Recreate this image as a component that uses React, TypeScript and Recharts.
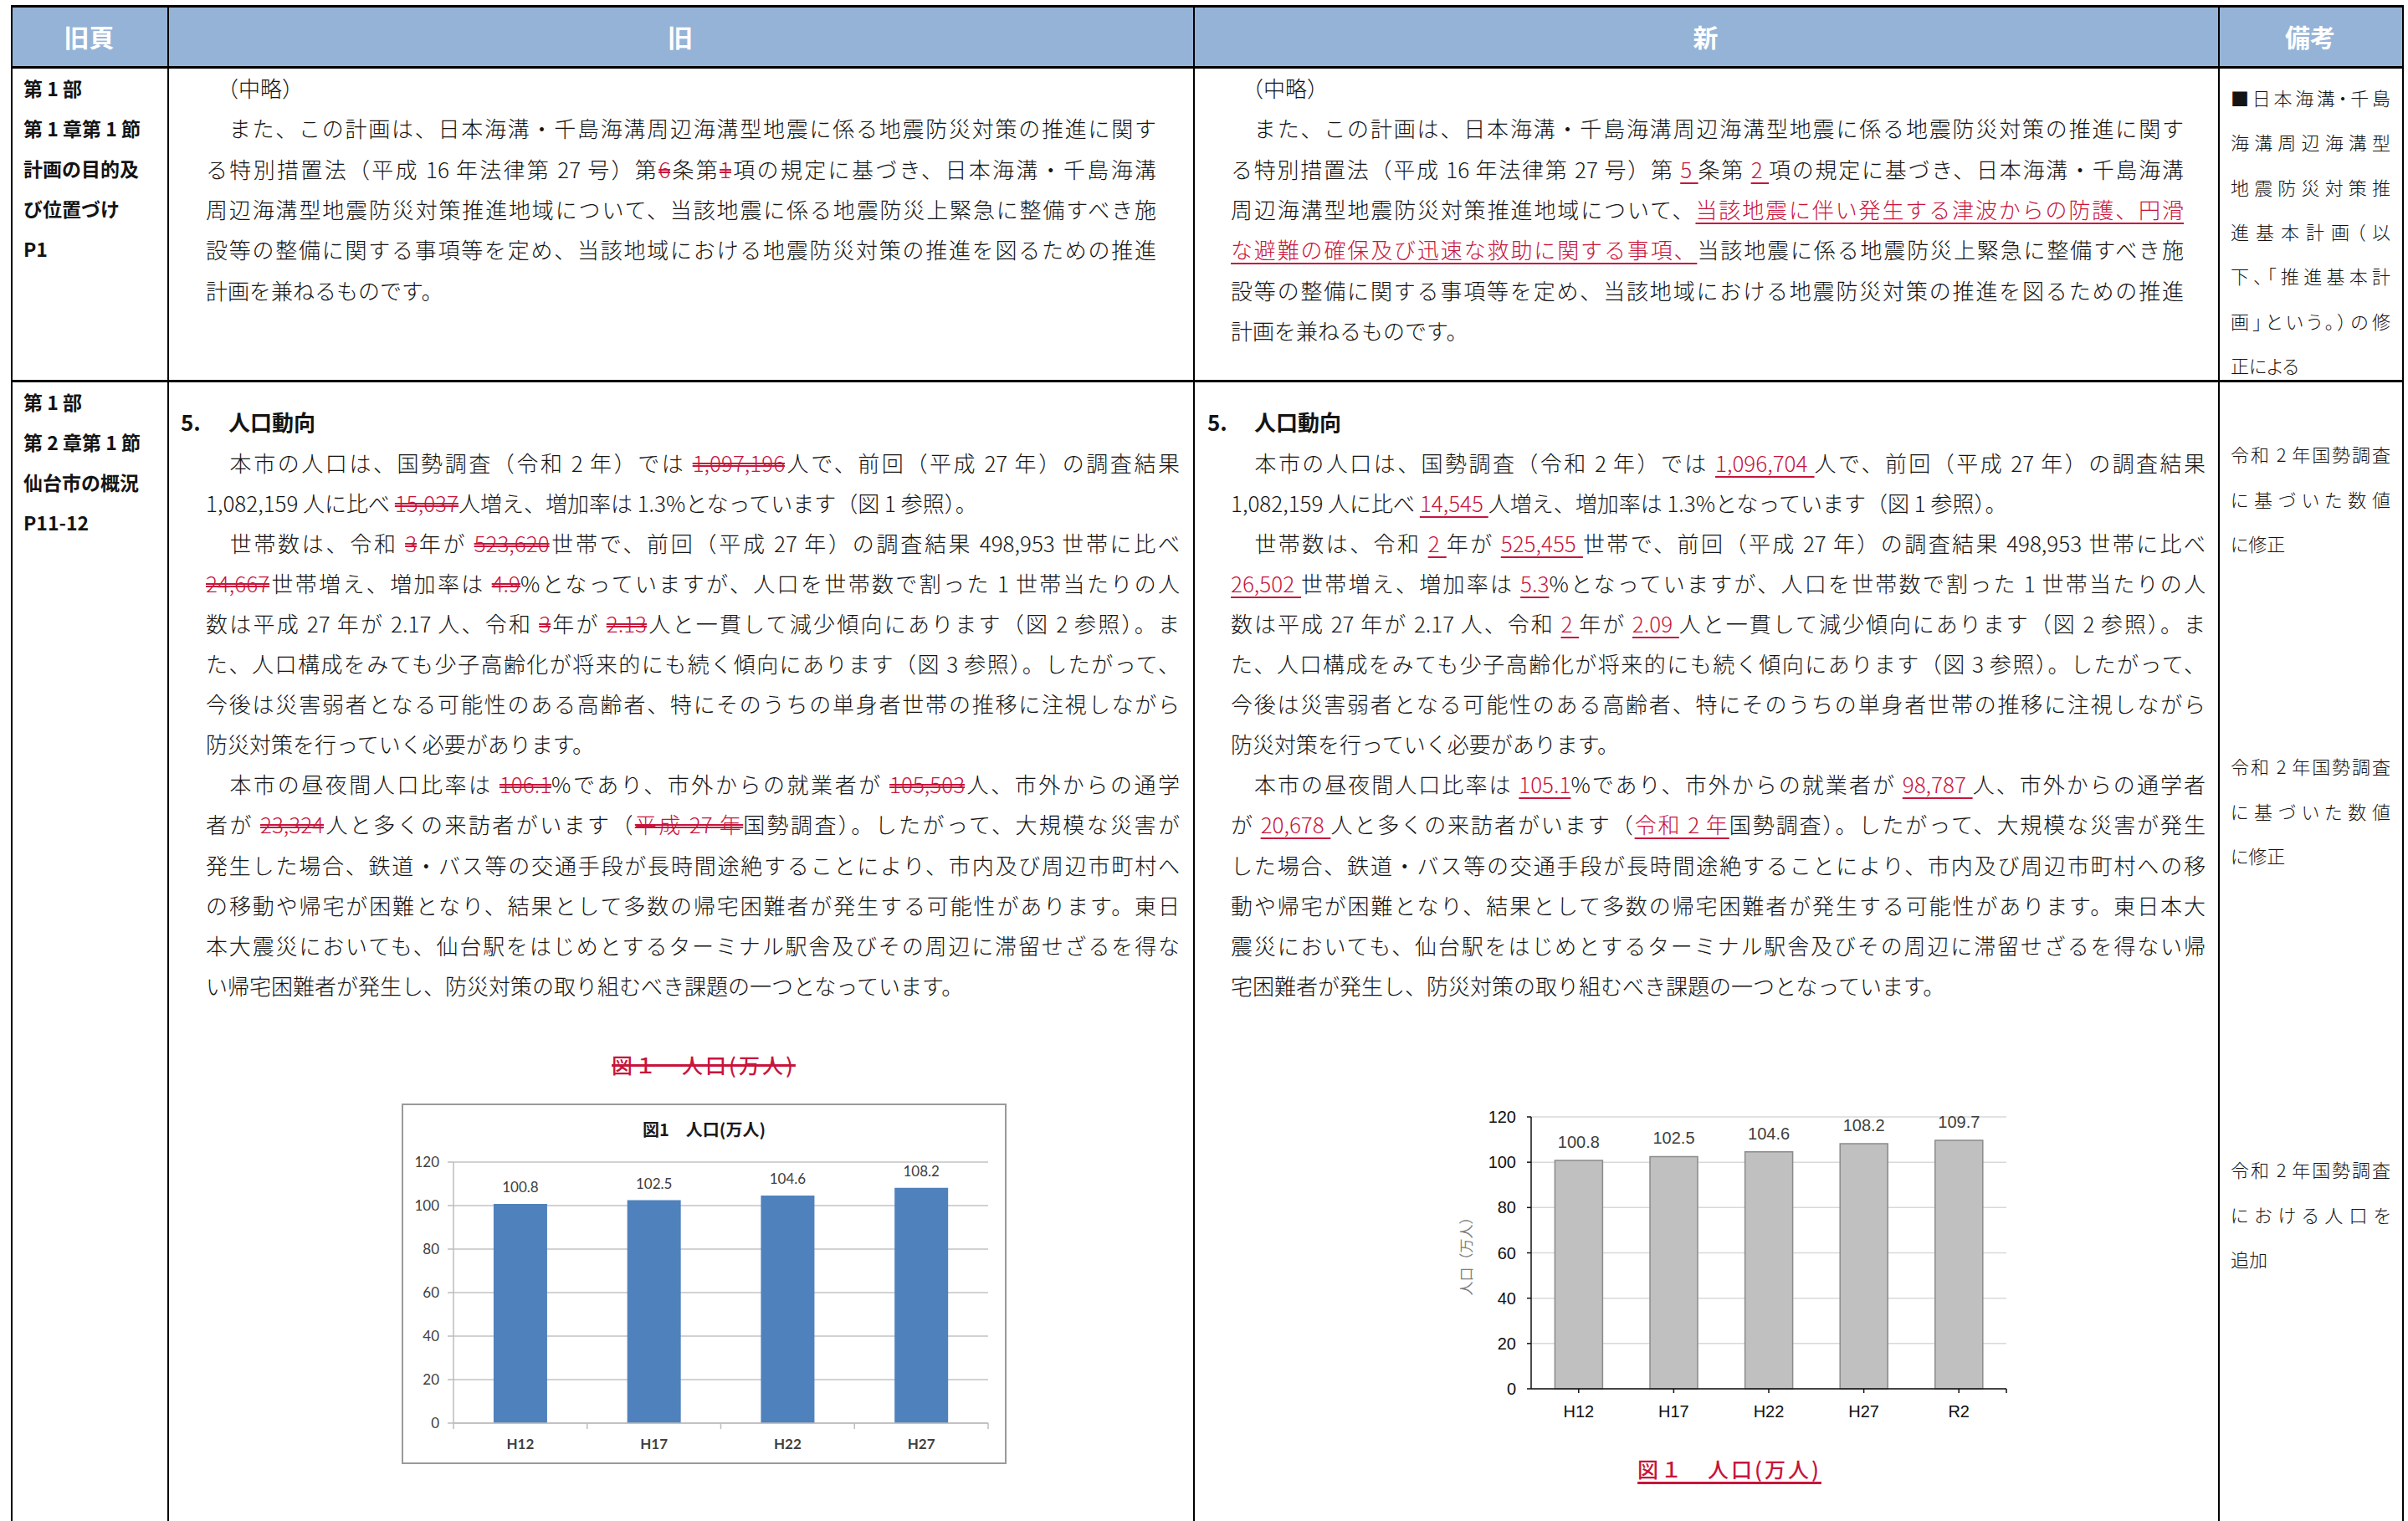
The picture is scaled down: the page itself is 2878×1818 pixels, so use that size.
import React from "react";
import { BarChart, Bar, XAxis, YAxis, CartesianGrid, LabelList } from "recharts";

// chart values
const oldYears = ["H12", "H17", "H22", "H27"];
const oldPopulation = [100.8, 102.5, 104.6, 108.2];
const newYears = ["H12", "H17", "H22", "H27", "R2"];
const newPopulation = [100.8, 102.5, 104.6, 108.2, 109.7];
const popTicks = [0, 20, 40, 60, 80, 100, 120];

const RED = "#c8143c";
const INK = "#141414";
const JP = '"Noto Sans CJK JP", sans-serif';

type Seg = string | { t: string; k: "del" | "ins" };
type Para = Seg[][];
const del = (t: string): Seg => ({ t, k: "del" });
const ins = (t: string): Seg => ({ t, k: "ins" });

const headers = ["旧頁", "旧", "新", "備考"];

const pageRef1 = ["第 1 部", "第 1 章第 1 節", "計画の目的及", "び位置づけ", "P1"];
const pageRef2 = ["第 1 部", "第 2 章第 1 節", "仙台市の概況", "P11-12"];

const oldPurpose: Para[] = [
  [["　（中略）"]],
  [
    ["　また、この計画は、日本海溝・千島海溝周辺海溝型地震に係る地震防災対策の推進に関す"],
    ["る特別措置法（平成 16 年法律第 27 号）第", del("6"), "条第", del("1"), "項の規定に基づき、日本海溝・千島海溝"],
    ["周辺海溝型地震防災対策推進地域について、当該地震に係る地震防災上緊急に整備すべき施"],
    ["設等の整備に関する事項等を定め、当該地域における地震防災対策の推進を図るための推進"],
    ["計画を兼ねるものです。"],
  ],
];

const newPurpose: Para[] = [
  [["　（中略）"]],
  [
    ["　また、この計画は、日本海溝・千島海溝周辺海溝型地震に係る地震防災対策の推進に関す"],
    ["る特別措置法（平成 16 年法律第 27 号）第 ", ins("5 "), "条第 ", ins("2 "), "項の規定に基づき、日本海溝・千島海溝"],
    ["周辺海溝型地震防災対策推進地域について、", ins("当該地震に伴い発生する津波からの防護、円滑")],
    [ins("な避難の確保及び迅速な救助に関する事項、"), "当該地震に係る地震防災上緊急に整備すべき施"],
    ["設等の整備に関する事項等を定め、当該地域における地震防災対策の推進を図るための推進"],
    ["計画を兼ねるものです。"],
  ],
];

const oldTrend: Para[] = [
  [
    ["　本市の人口は、国勢調査（令和 2 年）では ", del("1,097,196"), "人で、前回（平成 27 年）の調査結果"],
    ["1,082,159 人に比べ ", del("15,037"), "人増え、増加率は 1.3%となっています（図 1 参照）。"],
  ],
  [
    ["　世帯数は、令和 ", del("3"), "年が ", del("523,620"), "世帯で、前回（平成 27 年）の調査結果 498,953 世帯に比べ"],
    [del("24,667"), "世帯増え、増加率は ", del("4.9"), "%となっていますが、人口を世帯数で割った 1 世帯当たりの人"],
    ["数は平成 27 年が 2.17 人、令和 ", del("3"), "年が ", del("2.13"), "人と一貫して減少傾向にあります（図 2 参照）。ま"],
    ["た、人口構成をみても少子高齢化が将来的にも続く傾向にあります（図 3 参照）。したがって、"],
    ["今後は災害弱者となる可能性のある高齢者、特にそのうちの単身者世帯の推移に注視しながら"],
    ["防災対策を行っていく必要があります。"],
  ],
  [
    ["　本市の昼夜間人口比率は ", del("106.1"), "%であり、市外からの就業者が ", del("105,503"), "人、市外からの通学"],
    ["者が ", del("23,324"), "人と多くの来訪者がいます（", del("平成 27 年"), "国勢調査）。したがって、大規模な災害が"],
    ["発生した場合、鉄道・バス等の交通手段が長時間途絶することにより、市内及び周辺市町村へ"],
    ["の移動や帰宅が困難となり、結果として多数の帰宅困難者が発生する可能性があります。東日"],
    ["本大震災においても、仙台駅をはじめとするターミナル駅舎及びその周辺に滞留せざるを得な"],
    ["い帰宅困難者が発生し、防災対策の取り組むべき課題の一つとなっています。"],
  ],
];

const newTrend: Para[] = [
  [
    ["　本市の人口は、国勢調査（令和 2 年）では ", ins("1,096,704 "), "人で、前回（平成 27 年）の調査結果"],
    ["1,082,159 人に比べ ", ins("14,545 "), "人増え、増加率は 1.3%となっています（図 1 参照）。"],
  ],
  [
    ["　世帯数は、令和 ", ins("2 "), "年が ", ins("525,455 "), "世帯で、前回（平成 27 年）の調査結果 498,953 世帯に比べ"],
    [ins("26,502 "), "世帯増え、増加率は ", ins("5.3"), "%となっていますが、人口を世帯数で割った 1 世帯当たりの人"],
    ["数は平成 27 年が 2.17 人、令和 ", ins("2 "), "年が ", ins("2.09 "), "人と一貫して減少傾向にあります（図 2 参照）。ま"],
    ["た、人口構成をみても少子高齢化が将来的にも続く傾向にあります（図 3 参照）。したがって、"],
    ["今後は災害弱者となる可能性のある高齢者、特にそのうちの単身者世帯の推移に注視しながら"],
    ["防災対策を行っていく必要があります。"],
  ],
  [
    ["　本市の昼夜間人口比率は ", ins("105.1"), "%であり、市外からの就業者が ", ins("98,787 "), "人、市外からの通学者"],
    ["が ", ins("20,678 "), "人と多くの来訪者がいます（", ins("令和 2 年"), "国勢調査）。したがって、大規模な災害が発生"],
    ["した場合、鉄道・バス等の交通手段が長時間途絶することにより、市内及び周辺市町村への移"],
    ["動や帰宅が困難となり、結果として多数の帰宅困難者が発生する可能性があります。東日本大"],
    ["震災においても、仙台駅をはじめとするターミナル駅舎及びその周辺に滞留せざるを得ない帰"],
    ["宅困難者が発生し、防災対策の取り組むべき課題の一つとなっています。"],
  ],
];

const note1: Para[] = [
  [["■日本海溝・千島"], ["海溝周辺海溝型"], ["地震防災対策推"], ["進基本計画（以"], ["下、「推進基本計"], ["画」という。）の修"], ["正による"]],
];
const noteRevised: Para[] = [[["令和 2 年国勢調査"], ["に基づいた数値"], ["に修正"]]];
const noteAdded: Para[] = [[["令和 2 年国勢調査"], ["における人口を"], ["追加"]]];

const figCaption = "図１　人口(万人)";
const oldChartTitle = "図1　人口(万人)";
const yAxisName = "人口（万人）";

function renderSeg(s: Seg, i: number) {
  if (typeof s === "string") return <span key={i}>{s}</span>;
  if (s.k === "del")
    return (
      <span
        key={i}
        style={{
          color: RED,
          textDecorationLine: "line-through",
          textDecorationStyle: "double",
          textDecorationColor: RED,
          textDecorationThickness: "1.5px",
        }}
      >
        {s.t}
      </span>
    );
  return (
    <span
      key={i}
      style={{
        color: RED,
        textDecorationLine: "underline",
        textDecorationColor: RED,
        textDecorationThickness: "2px",
        textUnderlineOffset: "5px",
      }}
    >
      {s.t}
    </span>
  );
}

function Block(props: {
  paras: Para[];
  left: number;
  width: number;
  y0: number;
  step: number;
  size: number;
  weight?: number;
  palt?: boolean;
}) {
  const { paras, left, width, y0, step, size, weight = 300, palt = false } = props;
  const rows: { segs: Seg[]; justify: boolean }[] = [];
  paras.forEach((p) => p.forEach((segs, i) => rows.push({ segs, justify: i < p.length - 1 })));
  return (
    <>
      {rows.map((r, i) => (
        <div
          key={i}
          style={{
            position: "absolute",
            left,
            top: y0 + i * step - 20,
            width,
            height: 40,
            lineHeight: "40px",
            fontSize: size,
            fontWeight: weight,
            textAlign: "justify",
            textAlignLast: r.justify ? "justify" : "left",
            // palt squeezes punctuation in the narrow note column
            fontFeatureSettings: palt ? '"palt"' : undefined,
          }}
        >
          {r.segs.map(renderSeg)}
        </div>
      ))}
    </>
  );
}

function PageRef({ lines, y0 }: { lines: string[]; y0: number }) {
  return (
    <>
      {lines.map((t, i) => (
        <div
          key={i}
          style={{ position: "absolute", left: 28, top: y0 + i * 48 - 20, lineHeight: "40px", fontSize: 23, fontWeight: 700 }}
        >
          {t}
        </div>
      ))}
    </>
  );
}

function Heading({ x1, x2 }: { x1: number; x2: number }) {
  const st: React.CSSProperties = { position: "absolute", top: 484, lineHeight: "40px", fontSize: 26, fontWeight: 700 };
  return (
    <>
      <div style={{ ...st, left: x1 }}>5.</div>
      <div style={{ ...st, left: x2 }}>人口動向</div>
    </>
  );
}

function TableGrid() {
  const cols = [13, 200, 1426, 2651, 2871];
  const rows = [6, 79, 454];
  return (
    <>
      <div style={{ position: "absolute", left: 13, top: 6, width: 2860, height: 75, background: "#95b3d7" }} />
      {headers.map((h, i) => (
        <div
          key={h}
          style={{
            position: "absolute",
            left: cols[i],
            width: cols[i + 1] - cols[i],
            top: 22,
            lineHeight: "42px",
            textAlign: "center",
            color: "#fff",
            fontSize: 30,
            fontWeight: 700,
          }}
        >
          {h}
        </div>
      ))}
      {rows.map((y) => (
        <div key={y} style={{ position: "absolute", left: 13, top: y, width: 2860, height: 2.5, background: "#000" }} />
      ))}
      {cols.map((x) => (
        <div key={x} style={{ position: "absolute", left: x, top: 6, width: 2, height: 1812, background: "#000" }} />
      ))}
    </>
  );
}

function OldXTick(p: any) {
  const { x, y, payload, index, visibleTicksCount, width } = p;
  const half = payload && payload.offset ? payload.offset : width / visibleTicksCount / 2;
  return (
    <g>
      <line x1={x - half} x2={x - half} y1={y} y2={y + 7} stroke="#bdbdbd" strokeWidth={1.5} />
      {index === visibleTicksCount - 1 && (
        <line x1={x + half} x2={x + half} y1={y} y2={y + 7} stroke="#bdbdbd" strokeWidth={1.5} />
      )}
      <text x={x} y={y + 31} textAnchor="middle" fill="#404040" fontSize={17} fontWeight={700} fontFamily="Lato">
        {payload.value}
      </text>
    </g>
  );
}

function NewXTick(p: any) {
  const { x, y, payload, index, visibleTicksCount, width } = p;
  const half = payload && payload.offset ? payload.offset : width / visibleTicksCount / 2;
  return (
    <g>
      {index === visibleTicksCount - 1 && (
        <line x1={x + half} x2={x + half} y1={y - 5} y2={y} stroke="#111" strokeWidth={1.5} />
      )}
      <text x={x} y={y + 29} textAnchor="middle" fill="#111" fontSize={20} fontFamily="Liberation Sans">
        {payload.value}
      </text>
    </g>
  );
}

function OldChart() {
  const data = oldYears.map((year, i) => ({ year, value: oldPopulation[i] }));
  return (
    <div style={{ position: "absolute", left: 480, top: 1319, width: 723, height: 431 }}>
      <div style={{ position: "absolute", inset: 0, border: "2px solid #9a9a9a", boxSizing: "border-box" }} />
      <div
        style={{
          position: "absolute",
          left: 0,
          width: 723,
          top: 11,
          lineHeight: "40px",
          textAlign: "center",
          fontSize: 20,
          fontWeight: 700,
          color: "#1a1a1a",
        }}
      >
        {oldChartTitle}
      </div>
      <BarChart width={723} height={431} data={data} margin={{ top: 70, right: 22, bottom: 19, left: 0 }} barCategoryGap="30%">
        <CartesianGrid vertical={false} stroke="#c3c3c3" strokeWidth={1.5} />
        <XAxis
          dataKey="year"
          height={30}
          interval={0}
          axisLine={{ stroke: "#bdbdbd", strokeWidth: 1.5 }}
          tickLine={false}
          tickSize={0}
          tickMargin={0}
          tick={(p: any) => <OldXTick {...p} />}
        />
        <YAxis
          type="number"
          domain={[0, 120]}
          ticks={popTicks}
          interval={0}
          width={62}
          axisLine={{ stroke: "#bdbdbd", strokeWidth: 1.5 }}
          tickLine={{ stroke: "#bdbdbd", strokeWidth: 1.5 }}
          tickSize={7}
          tickMargin={10}
          tick={{ fill: "#404040", fontSize: 17, fontFamily: "Lato" }}
        />
        <Bar dataKey="value" fill="#4f81bd" isAnimationActive={false}>
          <LabelList dataKey="value" position="top" offset={14} fill="#404040" fontSize={17} fontFamily="Lato" />
        </Bar>
      </BarChart>
    </div>
  );
}

function NewChart() {
  const data = newYears.map((year, i) => ({ year, value: newPopulation[i] }));
  return (
    <div style={{ position: "absolute", left: 1720, top: 1300, width: 700, height: 420 }}>
      <BarChart width={700} height={420} data={data} margin={{ top: 35, right: 22, bottom: 20, left: 0 }} barCategoryGap="25%">
        <CartesianGrid vertical={false} stroke="#d9d9d9" strokeWidth={1.5} />
        <XAxis
          dataKey="year"
          height={40}
          interval={0}
          axisLine={{ stroke: "#111", strokeWidth: 1.5 }}
          tickLine={{ stroke: "#111", strokeWidth: 1.5 }}
          tickSize={5}
          tickMargin={0}
          tick={(p: any) => <NewXTick {...p} />}
        />
        <YAxis
          type="number"
          domain={[0, 120]}
          ticks={popTicks}
          interval={0}
          width={110}
          axisLine={{ stroke: "#111", strokeWidth: 1.5 }}
          tickLine={{ stroke: "#111", strokeWidth: 1.5 }}
          tickSize={5}
          tickMargin={13}
          tick={{ fill: "#111", fontSize: 20, fontFamily: "Liberation Sans" }}
          label={{
            value: yAxisName,
            angle: -90,
            position: "insideLeft",
            offset: 33,
            style: { textAnchor: "middle", fill: "#808080", fontSize: 17, fontFamily: JP },
          }}
        />
        <Bar dataKey="value" fill="#c0c0c0" stroke="#8a8a8a" strokeWidth={1.5} isAnimationActive={false}>
          <LabelList dataKey="value" position="top" offset={15} fill="#404040" fontSize={20} fontFamily="Liberation Sans" />
        </Bar>
      </BarChart>
    </div>
  );
}

function Caption({ cx, cy, strike }: { cx: number; cy: number; strike: boolean }) {
  return (
    <div
      style={{
        position: "absolute",
        left: cx - 200,
        width: 400,
        top: cy - 20,
        lineHeight: "40px",
        textAlign: "center",
        fontSize: 25,
        fontWeight: 500,
        letterSpacing: 3,
        color: RED,
      }}
    >
      <span
        style={{
          textDecorationLine: strike ? "line-through" : "underline",
          textDecorationColor: RED,
          textDecorationThickness: strike ? "3px" : "2.5px",
          textUnderlineOffset: "5px",
        }}
      >
        {figCaption}
      </span>
    </div>
  );
}

export default function App() {
  return (
    <div
      style={{
        position: "fixed",
        left: 0,
        top: 0,
        width: 2878,
        height: 1818,
        overflow: "hidden",
        background: "#fff",
        color: INK,
        fontFamily: JP,
      }}
    >
      <TableGrid />

      <PageRef lines={pageRef1} y0={105} />
      <PageRef lines={pageRef2} y0={480} />

      <Block paras={oldPurpose} left={246} width={1136} y0={105} step={48.3} size={26} />
      <Block paras={newPurpose} left={1471} width={1139} y0={105} step={48.3} size={26} />
      <Block paras={note1} left={2666} width={191} y0={116} step={53.3} size={22} palt />

      <Heading x1={216} x2={273} />
      <Heading x1={1443} x2={1499} />
      <Block paras={oldTrend} left={246} width={1164} y0={553} step={48.05} size={26} />
      <Block paras={newTrend} left={1471} width={1165} y0={553} step={48.05} size={26} />
      <Block paras={noteRevised} left={2666} width={191} y0={542} step={53.5} size={22} palt />
      <Block paras={noteRevised} left={2666} width={191} y0={915} step={53.5} size={22} palt />
      <Block paras={noteAdded} left={2666} width={191} y0={1397} step={53.5} size={22} palt />

      <Caption cx={841} cy={1272} strike />
      <OldChart />
      <NewChart />
      <Caption cx={2067} cy={1755} strike={false} />
    </div>
  );
}
